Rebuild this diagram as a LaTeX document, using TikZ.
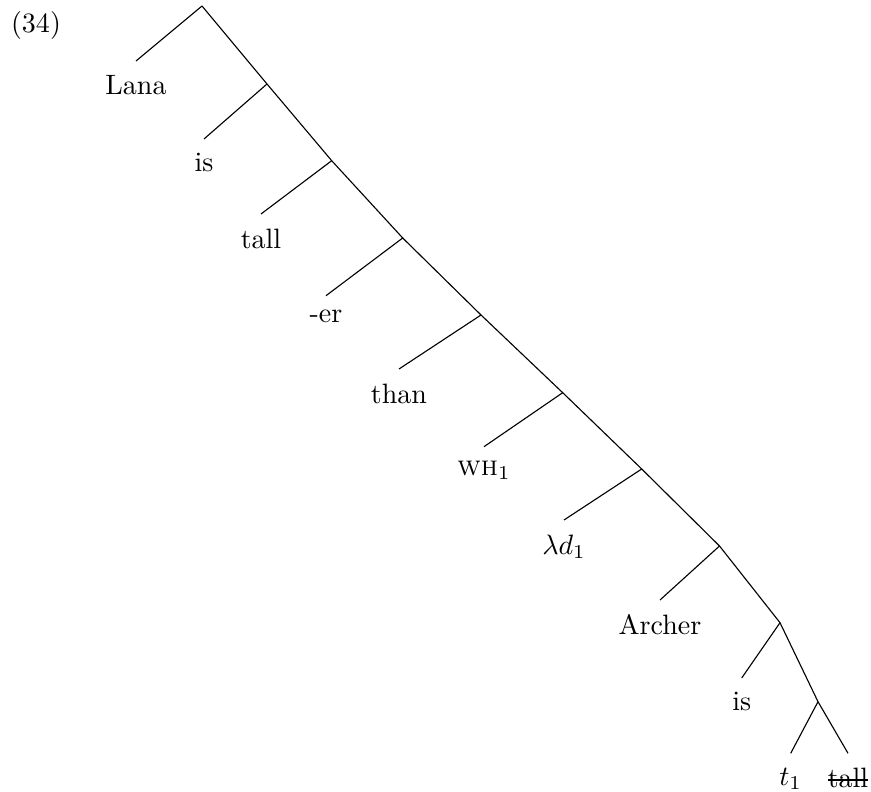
\documentclass[tikz,border=0pt]{standalone}
\usepackage{amsmath}
\newcommand{\struckout}[1]{\setbox0\hbox{#1}\rlap{\rule[.55ex]{\wd0}{.45pt}}\box0}

\begin{document}
\begin{tikzpicture}[x=.357pt,y=-.357pt,
  leaf/.style={anchor=north,inner xsep=0pt,inner ysep=5pt}]
\path[use as bounding box] (0,0) rectangle (871,792);
\node[anchor=base,inner sep=0pt] (ex) at (36,33) {(34)};
% branching points of the spine
\coordinate (n1) at (202,6);
\coordinate (n2) at (267,84);
\coordinate (n3) at (331.7,160.7);
\coordinate (n4) at (402.7,238);
\coordinate (n5) at (481,315);
\coordinate (n6) at (562.7,392.7);
\coordinate (n7) at (641.7,469);
\coordinate (n8) at (719.5,546);
\coordinate (n9) at (780,622.7);
\coordinate (n10) at (818,701.7);
% leaves
\node[leaf] (lana) at (136,61) {Lana};
\node[leaf] (is1) at (204,139) {is};
\node[leaf] (tall1) at (261,214) {tall};
\node[leaf] (er) at (326,295.7) {-er};
\node[leaf] (than) at (399,369) {than};
\node[leaf] (wh) at (484,446.7) {\textsc{wh}$_1$};
\node[leaf] (lam) at (564,520) {$\lambda d_1$};
\node[leaf] (archer) at (660,600) {Archer};
\node[leaf] (is2) at (741.7,678) {is};
\node[leaf] (trace) at (790.7,753.3) {$t_1$};
\node[leaf] (tall2) at (848,753.3) {\struckout{tall}};
\draw (n1)--(n2)--(n3)--(n4)--(n5)--(n6)--(n7)--(n8)--(n9)--(n10)--(tall2.north);
\draw (n1)--(lana.north);
\draw (n2)--(is1.north);
\draw (n3)--(tall1.north);
\draw (n4)--(er.north);
\draw (n5)--(than.north);
\draw (n6)--(wh.north);
\draw (n7)--(lam.north);
\draw (n8)--(archer.north);
\draw (n9)--(is2.north);
\draw (n10)--(trace.north);
\end{tikzpicture}
\end{document}
